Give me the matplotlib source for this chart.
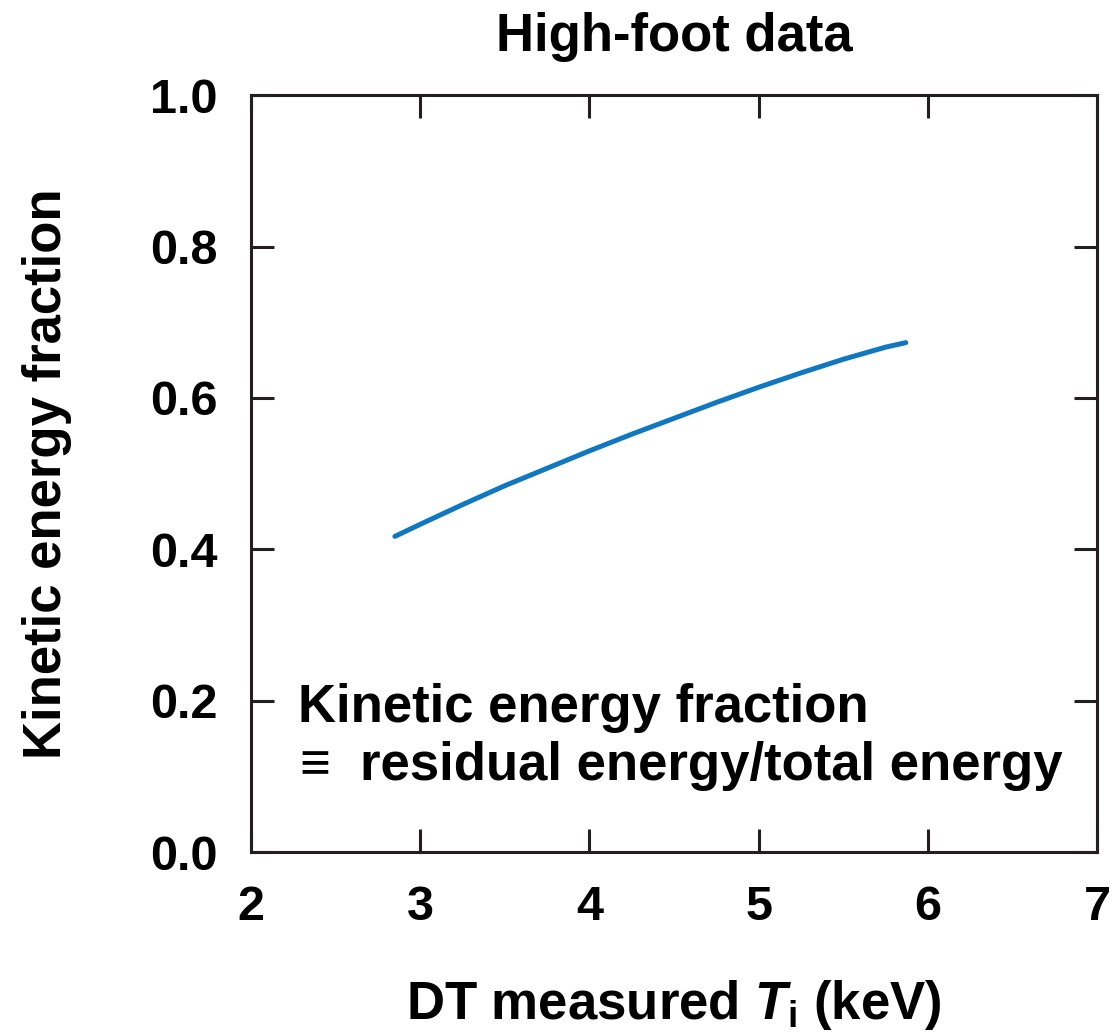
import matplotlib
matplotlib.use("Agg")
import matplotlib.pyplot as plt

# Kinetic energy fraction vs. measured DT ion temperature
ti_kev = [2.85, 3.0, 3.25, 3.5, 3.75, 4.0, 4.25, 4.5, 4.75, 5.0, 5.25, 5.5, 5.75, 5.87]
ke_fraction = [0.417, 0.433, 0.459, 0.484, 0.507, 0.530, 0.552, 0.573, 0.594,
               0.614, 0.633, 0.651, 0.667, 0.673]

x_ticks = [2, 3, 4, 5, 6, 7]
y_ticks = [0.0, 0.2, 0.4, 0.6, 0.8, 1.0]
y_tick_labels = ["0.0", "0.2", "0.4", "0.6", "0.8", "1.0"]

FONT = ["Liberation Sans", "DejaVu Sans"]
INK = "#231f20"

plt.rcParams["font.family"] = FONT
plt.rcParams["font.weight"] = "bold"
plt.rcParams["mathtext.fontset"] = "custom"
plt.rcParams["mathtext.rm"] = "Liberation Sans:bold"
plt.rcParams["mathtext.it"] = "Liberation Sans:bold:italic"
plt.rcParams["mathtext.bf"] = "Liberation Sans:bold"

fig = plt.figure(figsize=(11.16, 10.34), dpi=100)
ax = fig.add_axes([0.225, 0.176, 0.758, 0.732])

ax.plot(ti_kev, ke_fraction, color="#1177bf", lw=3.6, solid_capstyle="round",
        solid_joinstyle="round")

ax.set_xlim(2, 7)
ax.set_ylim(0, 1)
ax.set_xticks(x_ticks)
ax.set_yticks(y_ticks)
ax.set_yticklabels(y_tick_labels)

for s in ax.spines.values():
    s.set_linewidth(2.2)
    s.set_color(INK)

ax.tick_params(axis="both", direction="in", length=16.5, width=2.2, color=INK,
               top=True, right=True, labelsize=35, pad=24, labelcolor="black")
for lbl in ax.get_xticklabels() + ax.get_yticklabels():
    lbl.set_fontweight("bold")

ax.set_title("High-foot data", fontsize=38, fontweight="bold", pad=32)
ax.set_ylabel("Kinetic energy fraction", fontsize=38, fontweight="bold", labelpad=56)
ax.set_xlabel(r"DT measured $T_{\mathrm{i}}$ (keV)", fontsize=38, fontweight="bold", labelpad=34)

# Definition note inside the axes
ax.text(0.055, 0.172, "Kinetic energy fraction", transform=ax.transAxes,
        fontsize=38, fontweight="bold", ha="left", va="baseline")
ax.text(0.058, 0.095, "\u2261  residual energy/total energy", transform=ax.transAxes,
        fontsize=38, fontweight="bold", ha="left", va="baseline", family=FONT)

fig.savefig("out.png", dpi=100, facecolor="white")
